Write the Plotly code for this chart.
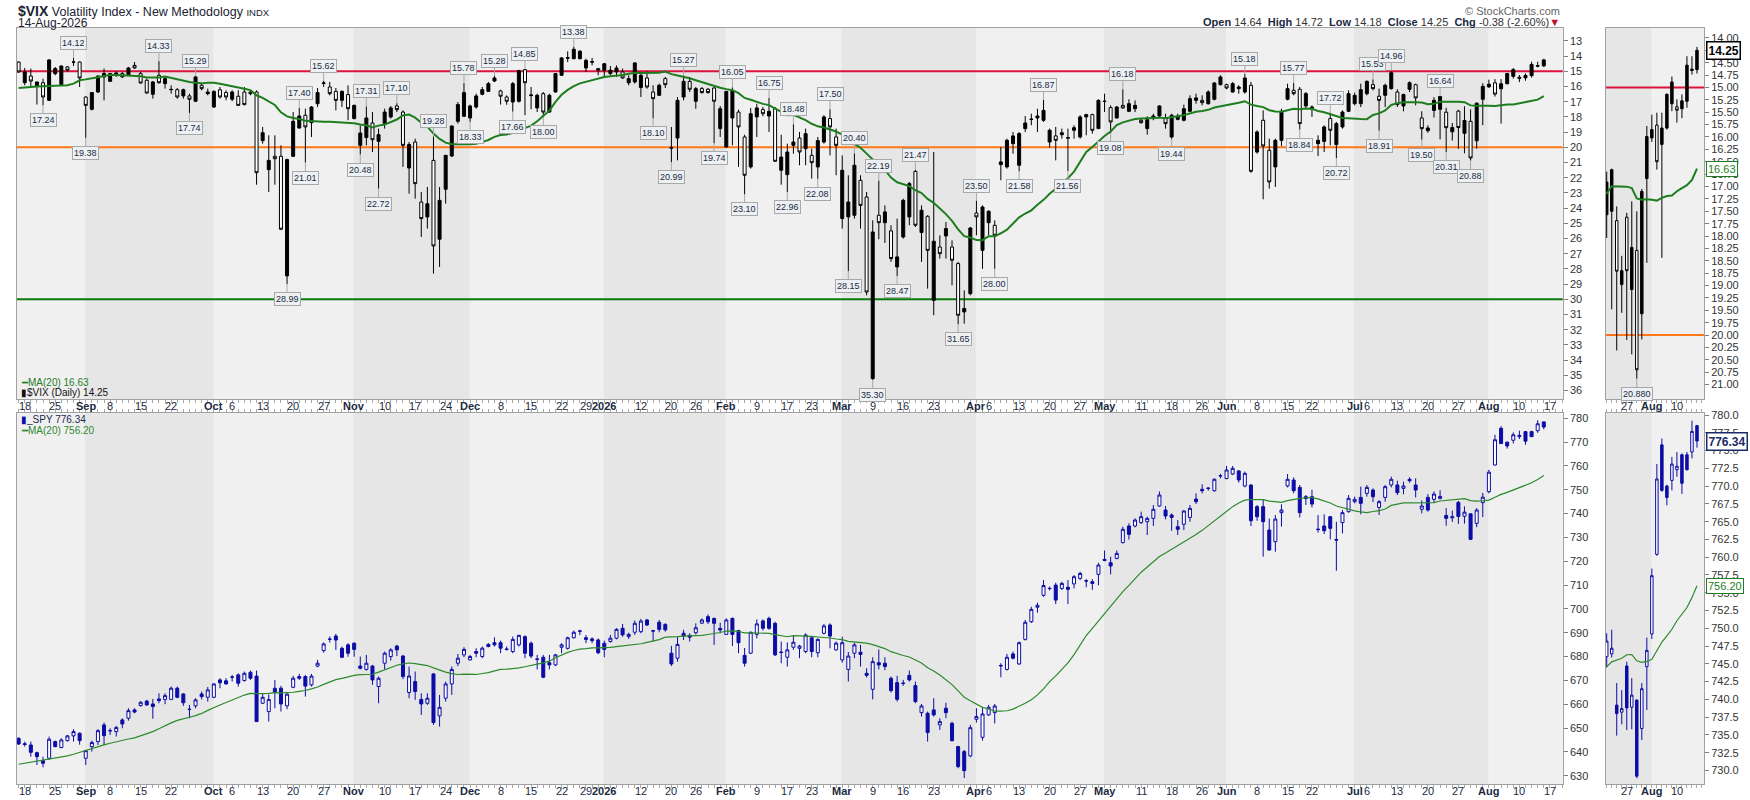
import pandas as pd
import plotly.graph_objects as go

FONT = "Liberation Sans, Arial, sans-serif"

# ---- trading calendar (Aug 15 2025 .. Aug 14 2026) ----
holidays = ["2025-09-01", "2025-11-27", "2025-12-25", "2026-01-01", "2026-01-19",
            "2026-02-16", "2026-04-03", "2026-05-25", "2026-06-19", "2026-07-03"]
cal = pd.bdate_range("2025-08-15", "2026-08-21")
cal = cal[~cal.isin(pd.to_datetime(holidays))]
bar_pos = {d: i for i, d in enumerate(cal)}

tick_dates = ["2025-08-18", "2025-08-25", "2025-09-02", "2025-09-08", "2025-09-15", "2025-09-22",
              "2025-10-01", "2025-10-06", "2025-10-13", "2025-10-20", "2025-10-27", "2025-11-03",
              "2025-11-10", "2025-11-17", "2025-11-24", "2025-12-01", "2025-12-08", "2025-12-15",
              "2025-12-22", "2025-12-29", "2026-01-02", "2026-01-12", "2026-01-20", "2026-01-26",
              "2026-02-02", "2026-02-09", "2026-02-17", "2026-02-23", "2026-03-02", "2026-03-09",
              "2026-03-16", "2026-03-23", "2026-04-01", "2026-04-06", "2026-04-13", "2026-04-20",
              "2026-04-27", "2026-05-01", "2026-05-11", "2026-05-18", "2026-05-26", "2026-06-01",
              "2026-06-08", "2026-06-15", "2026-06-22", "2026-07-01", "2026-07-06", "2026-07-13",
              "2026-07-20", "2026-07-27", "2026-08-03", "2026-08-10", "2026-08-17"]
tick_text = ["18", "25", "<b>Sep</b>", "8", "15", "22",
             "<b>Oct</b>", "6", "13", "20", "27", "<b>Nov</b>",
             "10", "17", "24", "<b>Dec</b>", "8", "15",
             "22", "29", "<b>2026</b>", "12", "20", "26",
             "<b>Feb</b>", "9", "17", "23", "<b>Mar</b>", "9",
             "16", "23", "<b>Apr</b>", "6", "13", "20",
             "27", "<b>May</b>", "11", "18", "26", "<b>Jun</b>",
             "8", "15", "22", "<b>Jul</b>", "6", "13",
             "20", "27", "<b>Aug</b>", "10", "17"]
zoom_tick_dates = ["2026-07-27", "2026-08-03", "2026-08-10"]
zoom_tick_text = ["27", "<b>Aug</b>", "10"]

# ---- $VIX daily OHLC ----
vix_open = [
    14.39, 15.75, 15.31, 15.96, 15.75, 16.91, 15.15, 15.88, 14.71, 14.40,
    14.39, 16.69, 17.50, 16.36, 15.37, 15.66, 15.26, 15.15, 15.26, 14.61,
    15.15, 15.59, 16.51, 15.26, 15.81, 16.21, 16.21, 16.62, 16.62, 16.97,
    15.92, 16.47, 17.35, 16.21, 16.40, 16.84, 16.64, 16.36, 16.36, 16.36,
    19.56, 21.47, 20.59, 20.59, 28.46, 20.59, 18.73, 17.89, 18.38, 17.13,
    15.79, 16.03, 16.32, 16.91, 16.53, 18.11, 19.87, 19.36, 18.40, 19.61,
    18.44, 18.00, 17.28, 17.68, 21.36, 19.65, 23.60, 24.58, 20.86, 26.05,
    22.76, 20.57, 18.29, 17.96, 18.07, 17.35, 16.51, 16.32, 15.64, 16.29,
    16.69, 17.02, 16.97, 14.89, 16.60, 17.41, 16.47, 17.68, 16.36, 15.26,
    14.14, 14.17, 14.17, 14.78, 14.40, 14.82, 14.93, 15.15, 15.04, 15.04,
    15.75, 15.70, 16.07, 15.44, 16.36, 16.58, 15.48, 20.00, 19.39, 16.69,
    15.66, 16.97, 16.14, 16.18, 16.10, 18.77, 19.98, 18.07, 17.68, 19.32,
    21.29, 18.00, 17.52, 17.94, 17.46, 21.51, 21.80, 19.87, 19.39, 20.09,
    20.53, 21.29, 19.65, 18.11, 19.32, 24.69, 24.58, 24.47, 22.17, 23.27,
    35.22, 24.47, 24.96, 25.50, 27.87, 25.90, 24.58, 21.58, 25.61, 24.54,
    30.07, 26.56, 25.83, 26.56, 27.65, 30.83, 29.63, 24.32, 26.78, 24.96,
    25.13, 21.14, 21.29, 19.76, 21.18, 18.77, 18.17, 18.07, 18.22, 19.65,
    19.25, 19.17, 19.40, 18.88, 19.32, 18.00, 17.85, 18.77, 16.99, 17.39,
    18.07, 17.24, 17.63, 17.46, 18.22, 18.77, 18.11, 17.94, 18.07, 19.32,
    18.16, 18.22, 17.63, 16.91, 16.91, 17.13, 16.84, 15.88, 15.88, 16.36,
    16.14, 16.36, 15.92, 20.31, 18.22, 20.20, 21.29, 19.54, 16.84, 16.25,
    16.18, 17.28, 17.46, 19.76, 19.61, 18.11, 19.82, 18.66, 17.63, 17.13,
    17.13, 16.47, 15.88, 16.64, 16.58, 16.14, 16.36, 17.28, 16.18, 15.88,
    18.07, 18.91, 17.57, 17.50, 17.69, 18.98, 17.62, 19.08, 18.29, 19.57,
    16.84, 16.02, 15.76, 16.15, 15.82, 15.33, 15.39, 15.43, 15.28, 14.66,
    14.64]
vix_high = [
    15.10, 15.92, 16.03, 17.19, 17.24, 16.95, 15.26, 15.90, 15.00, 14.65,
    16.03, 19.38, 17.57, 16.43, 16.91, 15.70, 15.37, 15.44, 15.31, 14.82,
    15.81, 16.47, 16.80, 15.81, 16.14, 16.47, 16.80, 16.80, 17.74, 17.02,
    16.25, 16.58, 17.41, 16.80, 16.91, 16.97, 17.28, 17.24, 16.58, 22.46,
    19.76, 22.94, 22.46, 25.45, 28.99, 20.64, 18.77, 21.01, 19.32, 17.35,
    16.03, 16.58, 17.57, 17.35, 18.22, 18.16, 20.48, 19.87, 20.31, 22.72,
    18.77, 18.11, 17.68, 21.29, 23.05, 23.38, 25.90, 25.35, 28.31, 27.87,
    23.71, 20.64, 18.44, 18.00, 18.33, 17.46, 16.58, 16.36, 15.70, 17.19,
    17.20, 17.66, 17.06, 17.89, 17.50, 17.68, 18.00, 17.72, 16.40, 15.31,
    14.39, 14.21, 14.21, 15.04, 14.61, 15.26, 15.44, 15.26, 15.37, 15.48,
    15.92, 15.81, 16.69, 16.14, 18.10, 16.60, 16.10, 20.99, 20.86, 16.91,
    16.36, 17.46, 16.47, 16.47, 19.74, 19.32, 20.02, 19.87, 21.29, 23.10,
    21.40, 19.32, 17.96, 18.99, 20.96, 22.46, 22.96, 20.42, 21.18, 21.18,
    22.06, 22.08, 19.76, 20.53, 21.84, 25.35, 28.15, 24.69, 25.35, 29.74,
    35.30, 26.05, 26.29, 27.54, 28.47, 26.01, 25.13, 25.24, 27.54, 29.30,
    31.05, 27.32, 27.32, 29.08, 31.65, 31.60, 29.74, 25.79, 28.00, 25.79,
    28.00, 22.17, 21.40, 20.42, 21.58, 18.99, 18.55, 18.99, 18.33, 20.02,
    20.86, 19.43, 21.56, 19.43, 19.43, 19.21, 19.10, 18.80, 17.68, 19.08,
    18.11, 17.46, 17.68, 17.68, 18.44, 19.17, 18.22, 18.00, 18.77, 19.44,
    18.22, 18.29, 17.68, 17.13, 17.24, 17.19, 16.91, 15.92, 16.18, 16.40,
    16.47, 16.47, 21.67, 20.42, 23.42, 22.72, 22.61, 19.91, 16.91, 16.58,
    18.84, 17.46, 18.00, 20.58, 20.31, 19.87, 20.72, 18.77, 17.68, 17.24,
    17.35, 16.58, 16.25, 18.91, 17.35, 16.21, 17.35, 17.63, 16.36, 17.24,
    19.50, 19.04, 18.04, 19.48, 20.31, 19.55, 20.10, 20.39, 20.88, 20.09,
    18.54, 16.10, 16.66, 18.44, 15.85, 15.48, 15.71, 15.62, 15.41, 14.74,
    14.72]
vix_low = [
    14.35, 14.78, 14.82, 15.70, 15.48, 14.20, 14.71, 14.61, 14.65, 14.12,
    14.35, 16.65, 16.36, 15.26, 14.82, 15.11, 15.00, 15.04, 14.71, 14.39,
    15.04, 15.48, 15.64, 14.33, 15.37, 15.92, 16.10, 16.14, 16.47, 15.29,
    15.81, 16.14, 16.25, 16.03, 16.25, 16.25, 16.25, 16.03, 16.25, 16.25,
    18.66, 19.21, 19.21, 19.87, 20.75, 17.68, 17.40, 17.46, 17.28, 16.10,
    15.62, 15.70, 16.10, 16.25, 15.92, 17.19, 18.55, 17.31, 17.68, 18.77,
    17.46, 17.28, 17.10, 17.57, 19.65, 19.43, 22.94, 22.61, 19.28, 22.61,
    20.50, 18.55, 17.02, 15.78, 17.19, 16.47, 16.03, 15.70, 15.28, 16.21,
    16.58, 15.70, 14.90, 14.85, 16.03, 16.47, 16.36, 16.47, 15.11, 14.06,
    13.68, 13.38, 13.61, 14.17, 14.12, 14.78, 14.45, 14.65, 14.61, 14.82,
    15.26, 14.39, 15.04, 15.00, 15.92, 15.81, 15.37, 18.66, 16.69, 15.27,
    15.37, 16.03, 16.03, 16.10, 16.03, 17.28, 16.30, 16.05, 17.52, 19.17,
    17.41, 17.13, 17.35, 16.75, 17.35, 19.17, 19.76, 18.48, 18.99, 18.77,
    20.09, 19.32, 17.89, 17.50, 18.77, 20.53, 21.84, 20.40, 21.84, 22.94,
    24.80, 22.19, 23.82, 25.13, 24.69, 23.38, 22.28, 21.47, 23.82, 24.47,
    20.31, 25.79, 24.91, 26.12, 27.54, 29.41, 25.24, 23.50, 23.82, 24.14,
    24.80, 19.98, 19.43, 18.99, 18.99, 17.94, 17.79, 17.46, 16.87, 18.77,
    18.66, 18.77, 18.77, 18.55, 17.89, 17.79, 17.79, 16.84, 16.47, 17.24,
    17.28, 16.18, 16.84, 16.91, 18.07, 17.96, 17.79, 17.24, 17.79, 17.79,
    17.79, 17.19, 16.58, 16.47, 16.58, 16.25, 15.70, 15.26, 15.81, 15.70,
    15.92, 15.18, 15.70, 18.88, 17.57, 19.43, 19.43, 17.46, 15.81, 15.77,
    16.03, 16.36, 17.24, 19.21, 18.55, 17.72, 18.33, 17.57, 16.25, 16.40,
    15.81, 15.60, 15.53, 16.14, 15.81, 14.96, 16.18, 16.47, 15.66, 15.81,
    17.63, 18.55, 16.70, 16.64, 17.40, 18.40, 17.53, 17.30, 17.50, 17.05,
    15.78, 15.55, 15.51, 15.51, 15.12, 14.78, 15.24, 15.14, 14.37, 14.37,
    14.18]
vix_close = [
    15.04, 15.04, 15.64, 15.70, 16.69, 14.25, 14.82, 14.65, 14.93, 14.39,
    15.44, 17.24, 16.40, 15.31, 15.15, 15.15, 15.11, 15.37, 14.78, 14.78,
    15.77, 16.43, 15.70, 15.75, 15.48, 16.19, 16.69, 16.21, 16.84, 15.37,
    16.14, 16.36, 16.32, 16.69, 16.69, 16.36, 17.24, 17.19, 16.47, 21.67,
    19.04, 20.86, 20.75, 25.39, 20.81, 18.29, 17.94, 18.66, 17.35, 16.40,
    15.77, 16.47, 16.91, 16.32, 17.46, 17.24, 19.06, 18.07, 19.50, 19.17,
    17.68, 17.41, 17.52, 19.87, 19.82, 22.39, 24.69, 23.71, 26.49, 23.49,
    20.53, 18.60, 17.19, 16.40, 17.28, 16.62, 16.21, 15.81, 15.44, 16.64,
    16.97, 15.81, 14.95, 15.75, 16.56, 16.58, 17.68, 16.58, 15.15, 14.12,
    14.10, 13.55, 13.68, 14.28, 14.37, 14.93, 14.50, 14.93, 14.78, 15.44,
    15.48, 14.45, 15.26, 16.03, 16.80, 15.92, 15.88, 20.05, 16.91, 15.66,
    16.18, 16.14, 16.40, 16.40, 16.97, 17.46, 16.32, 16.25, 18.66, 21.84,
    17.79, 17.41, 17.79, 17.63, 20.92, 20.64, 20.31, 19.65, 20.31, 19.10,
    21.01, 19.56, 18.00, 18.66, 19.87, 21.51, 23.60, 21.18, 23.82, 29.52,
    25.57, 24.96, 24.25, 27.32, 27.21, 23.49, 22.39, 25.13, 24.14, 26.78,
    26.18, 27.00, 25.35, 27.43, 31.05, 30.61, 25.31, 24.58, 23.93, 24.21,
    25.79, 20.96, 19.54, 19.25, 19.10, 18.40, 18.15, 17.94, 17.57, 18.88,
    19.54, 19.04, 19.36, 18.71, 18.00, 17.85, 18.88, 16.91, 16.97, 18.33,
    17.35, 17.41, 17.13, 17.24, 18.38, 18.18, 17.94, 17.28, 18.44, 17.89,
    17.94, 17.46, 16.80, 16.75, 17.06, 16.36, 15.77, 15.37, 16.10, 15.81,
    16.03, 15.44, 21.58, 18.99, 19.91, 22.28, 19.54, 17.63, 16.14, 16.47,
    18.44, 16.47, 17.35, 19.54, 18.66, 18.88, 18.44, 17.68, 16.47, 16.58,
    16.21, 15.66, 16.14, 16.91, 15.92, 15.09, 17.19, 16.53, 15.75, 16.75,
    18.77, 18.73, 16.91, 16.66, 18.71, 18.70, 18.70, 18.23, 20.70, 17.10,
    15.99, 15.85, 16.50, 15.82, 15.14, 14.89, 15.46, 15.27, 14.55, 14.63,
    14.25]
# MA(20) values for the first bars (history before the window)
vix_ma_head = [16.10, 16.05, 16.03, 16.00, 15.99, 15.96, 15.96, 15.94, 15.92, 15.81,
               15.59, 15.53, 15.48, 15.39, 15.31, 15.24, 15.24, 15.26, 15.29]

# ---- SPY daily OHLC ----
spy_open = [
    645.68, 643.4, 642.88, 639.66, 636.3, 637.3, 644.3, 641.8, 644.7, 646.7,
    647.8, 637.3, 642.2, 644.3, 651.3, 648.8, 648.5, 653.4, 654.1, 657.6,
    659.4, 661.3, 660.1, 662.2, 662.0, 662.0, 666.7, 664.3, 657.9, 659.3,
    664.3, 662.9, 662.9, 670.2, 669.8, 671.3, 672.3, 669.9, 673.4, 671.8,
    660.4, 656.9, 666.7, 666.7, 659.3, 667.1, 671.6, 671.6, 668.1, 676.0,
    682.5, 687.2, 688.6, 683.45, 684.9, 685.6, 676.0, 674.6, 676.0, 667.4,
    677.2, 680.0, 684.4, 680.2, 664.9, 669.5, 662.0, 660.4, 672.7, 655.1,
    662.5, 668.5, 677.2, 680.7, 678.6, 682.1, 680.0, 685.1, 685.8, 685.8,
    683.0, 682.1, 684.9, 688.35, 685.6, 679.0, 679.7, 677.4, 676.5, 683.9,
    683.45, 687.9, 690.6, 687.9, 687.4, 686.95, 685.56, 686.3, 687.7, 691.85,
    688.35, 690.2, 690.45, 695.35, 690.8, 694.4, 693.5, 681.4, 679.3, 689.75,
    688.9, 690.0, 694.0, 696.75, 696.0, 691.85, 689.3, 696.0, 690.9, 680.5,
    681.4, 689.3, 694.95, 696.0, 693.95, 681.9, 679.7, 683.9, 683.45, 682.1,
    687.9, 681.6, 689.75, 693.25, 682.8, 678.6, 674.6, 681.4, 681.8, 672.96,
    666.25, 677.4, 677.2, 670.9, 669.05, 668.9, 672.1, 667.8, 656.45, 656.2,
    657.6, 651.3, 658.3, 651.98, 642.2, 640.1, 638.3, 653.65, 646.1, 655.5,
    656.45, 676.3, 674.6, 681.1, 676.9, 687.2, 694.6, 700.7, 705.7, 708.5,
    710.0, 708.6, 709.1, 710.5, 712.8, 711.8, 711.4, 714.5, 720.8, 719.4,
    721.2, 727.8, 734.8, 734.8, 736.2, 736.6, 738.0, 743.2, 741.5, 739.4,
    734.5, 735.5, 738.4, 746.1, 750.2, 750.7, 749.6, 755.8, 754.7, 756.6,
    757.9, 751.6, 752.0, 742.9, 742.9, 733.1, 728.2, 740.4, 751.6, 754.1,
    751.0, 747.1, 747.1, 733.5, 734.8, 738.7, 729.1, 736.2, 740.8, 745.0,
    746.8, 748.5, 749.9, 742.6, 746.8, 752.0, 752.0, 750.6, 754.4, 752.0,
    741.8, 746.8, 746.0, 746.4, 739.2, 738.2, 744.7, 738.9, 739.9, 735.9,
    744.6, 749.2, 760.4, 775.8, 770.0, 770.8, 772.3, 774.4, 774.4, 774.8,
    778.5]
spy_high = [
    646.1, 644.3, 644.3, 640.1, 637.98, 646.4, 644.7, 645.7, 647.1, 649.5,
    648.1, 640.8, 644.7, 649.5, 652.3, 649.9, 650.9, 654.1, 658.3, 658.3,
    661.3, 661.8, 662.2, 664.6, 664.6, 667.4, 667.4, 664.6, 659.7, 662.5,
    665.3, 667.2, 668.8, 670.9, 670.9, 672.3, 673.0, 673.7, 674.1, 674.1,
    664.6, 664.1, 670.2, 667.7, 664.6, 671.9, 672.7, 672.3, 672.7, 678.6,
    685.9, 688.4, 689.5, 684.2, 685.6, 685.9, 680.0, 680.7, 676.5, 671.6,
    682.1, 683.5, 684.9, 680.7, 675.8, 673.7, 664.6, 664.6, 673.0, 663.9,
    669.5, 675.8, 681.1, 683.9, 680.7, 683.5, 684.2, 685.6, 688.1, 686.7,
    684.2, 688.4, 689.1, 688.9, 686.3, 680.7, 680.7, 680.7, 681.1, 685.6,
    688.35, 690.9, 691.3, 689.05, 688.1, 687.6, 686.7, 689.05, 691.9, 693.7,
    690.0, 695.1, 695.8, 695.8, 691.2, 695.35, 693.95, 684.5, 688.35, 691.2,
    689.75, 693.95, 696.0, 697.7, 696.4, 694.2, 696.0, 696.4, 691.2, 683.6,
    690.45, 695.6, 695.6, 696.75, 694.6, 686.3, 685.9, 688.6, 684.9, 689.75,
    688.1, 687.6, 693.7, 693.95, 686.3, 688.35, 681.9, 685.9, 684.9, 675.1,
    679.7, 683.0, 679.7, 671.6, 671.9, 670.2, 674.1, 669.5, 660.1, 656.9,
    662.5, 654.1, 660.6, 652.7, 642.5, 640.8, 651.3, 658.3, 658.3, 659.7,
    660.1, 677.2, 681.1, 682.1, 686.3, 695.35, 700.9, 702.6, 712.1, 709.4,
    711.0, 711.4, 712.1, 714.2, 715.6, 712.5, 712.5, 719.4, 724.5, 721.9,
    724.5, 734.5, 735.9, 738.0, 740.8, 738.7, 743.6, 749.3, 743.2, 740.1,
    737.3, 741.5, 743.6, 748.5, 752.3, 751.1, 754.8, 756.7, 760.0, 760.0,
    758.3, 757.6, 752.3, 743.6, 746.1, 737.9, 739.4, 743.9, 756.6, 755.2,
    752.0, 747.8, 750.0, 739.4, 739.7, 739.0, 736.6, 741.5, 747.8, 747.1,
    751.3, 752.0, 750.6, 745.7, 752.0, 755.5, 753.8, 753.4, 755.2, 754.8,
    745.5, 748.2, 749.3, 749.8, 742.3, 741.3, 745.3, 743.0, 740.0, 742.3,
    748.7, 758.4, 773.1, 776.7, 770.2, 774.1, 774.8, 774.6, 774.8, 779.2,
    778.6]
spy_low = [
    642.9, 642.2, 637.98, 634.5, 633.5, 636.6, 641.9, 641.5, 644.3, 644.3,
    643.0, 634.5, 640.1, 642.9, 642.9, 647.1, 646.4, 649.9, 653.1, 656.2,
    658.97, 659.3, 653.9, 660.4, 660.0, 661.8, 662.5, 659.3, 654.1, 658.3,
    662.0, 661.1, 662.5, 666.7, 668.3, 669.5, 667.4, 669.5, 670.2, 652.5,
    660.1, 652.7, 658.3, 656.9, 657.9, 666.7, 670.2, 663.2, 667.4, 675.5,
    681.6, 685.9, 682.8, 679.3, 679.9, 679.9, 674.6, 674.1, 668.1, 660.4,
    674.6, 678.3, 680.2, 670.5, 662.5, 661.8, 655.5, 659.7, 651.3, 650.6,
    661.1, 663.9, 676.0, 679.7, 678.3, 679.7, 679.3, 683.9, 684.2, 681.4,
    682.5, 681.4, 684.2, 679.3, 679.3, 674.6, 670.9, 674.6, 676.0, 681.4,
    682.9, 687.6, 689.0, 685.6, 685.6, 681.0, 679.7, 685.9, 687.2, 688.35,
    687.4, 689.05, 689.75, 692.8, 686.3, 690.2, 690.45, 676.0, 677.85, 686.95,
    686.3, 689.3, 693.7, 693.7, 684.9, 689.75, 689.05, 684.4, 681.4, 675.8,
    681.1, 687.6, 690.9, 691.2, 680.2, 677.2, 675.8, 682.8, 679.3, 681.4,
    679.7, 679.7, 689.3, 683.45, 682.5, 677.4, 669.5, 679.3, 675.8, 671.2,
    662.0, 674.6, 674.3, 664.9, 661.1, 667.7, 669.5, 660.4, 654.8, 644.3,
    654.8, 649.2, 654.1, 644.3, 633.1, 629.0, 637.7, 652.3, 644.7, 655.1,
    651.9, 671.3, 674.1, 678.8, 676.5, 686.7, 694.1, 698.4, 705.1, 707.7,
    702.0, 707.9, 702.0, 708.6, 712.1, 709.1, 708.0, 709.9, 720.0, 714.5,
    720.8, 727.5, 729.1, 734.2, 735.7, 731.0, 734.8, 742.9, 737.6, 732.8,
    731.0, 733.1, 736.6, 744.0, 748.5, 749.6, 749.2, 754.8, 754.4, 756.2,
    753.0, 751.0, 734.8, 737.0, 721.9, 724.5, 724.0, 734.5, 751.0, 748.5,
    738.4, 743.6, 742.6, 732.0, 731.4, 729.2, 716.0, 731.7, 740.4, 744.3,
    739.7, 747.1, 744.9, 739.4, 745.0, 751.0, 747.8, 748.1, 753.0, 746.8,
    740.1, 740.8, 744.5, 745.9, 734.9, 736.5, 735.7, 735.8, 728.9, 734.3,
    738.5, 748.5, 760.2, 769.2, 767.3, 769.4, 771.3, 768.9, 772.2, 773.9,
    775.4]
spy_close = [
    643.3, 643.1, 639.8, 637.98, 635.2, 645.3, 642.2, 645.0, 646.7, 648.5,
    644.7, 640.5, 643.9, 648.9, 646.8, 648.9, 650.2, 651.7, 657.3, 656.7,
    660.8, 659.7, 659.0, 661.5, 663.6, 666.7, 662.9, 660.6, 657.8, 661.8,
    663.2, 666.0, 668.5, 669.0, 668.5, 671.4, 668.8, 672.96, 670.9, 652.7,
    662.9, 662.0, 664.9, 660.1, 664.2, 670.9, 670.9, 667.6, 671.8, 677.2,
    685.3, 687.3, 686.95, 679.7, 681.4, 683.0, 675.1, 677.2, 670.2, 670.9,
    681.4, 682.8, 682.8, 671.6, 671.8, 665.3, 660.1, 662.5, 652.3, 658.7,
    668.5, 674.6, 679.3, 683.0, 680.0, 681.4, 683.5, 684.2, 684.9, 683.5,
    683.1, 687.2, 688.9, 681.4, 680.2, 678.8, 671.3, 676.5, 680.7, 684.9,
    687.9, 690.2, 690.7, 687.2, 686.7, 681.6, 683.0, 687.7, 691.4, 689.1,
    689.3, 693.95, 694.9, 693.25, 690.7, 691.4, 691.2, 676.9, 685.1, 688.6,
    688.1, 692.1, 695.35, 694.6, 693.95, 691.15, 695.35, 689.3, 685.8, 677.2,
    690.2, 693.7, 691.85, 691.85, 680.7, 681.7, 682.8, 686.0, 684.4, 689.05,
    682.1, 687.2, 692.85, 688.6, 685.6, 685.8, 680.2, 684.9, 680.9, 672.1,
    677.85, 676.5, 675.8, 665.7, 662.05, 668.7, 670.2, 661.1, 659.25, 648.1,
    655.5, 652.7, 656.45, 644.7, 633.8, 632.1, 650.15, 654.8, 655.9, 658.7,
    659.25, 676.1, 679.7, 679.3, 685.8, 694.4, 699.8, 701.5, 709.8, 708.6,
    703.7, 710.7, 708.2, 713.5, 714.9, 711.7, 710.7, 718.4, 720.3, 718.0,
    723.3, 733.4, 731.3, 737.3, 738.7, 738.0, 741.8, 747.8, 739.0, 738.4,
    733.4, 741.1, 742.2, 745.0, 749.6, 750.6, 754.4, 755.9, 758.3, 759.0,
    754.1, 756.9, 737.0, 738.7, 736.6, 724.7, 737.7, 741.5, 754.4, 749.6,
    740.4, 746.3, 744.0, 733.3, 732.8, 733.8, 728.9, 740.4, 746.4, 746.0,
    744.3, 751.0, 747.1, 745.0, 751.3, 754.4, 748.8, 751.6, 753.8, 749.9,
    743.2, 741.5, 748.2, 747.2, 738.0, 738.7, 738.8, 740.6, 729.2, 741.5,
    746.9, 757.4, 771.0, 769.4, 768.4, 773.1, 772.8, 770.4, 772.3, 777.7,
    776.34]
spy_ma_head = [634.8, 635.2, 635.9, 636.3, 636.6, 636.9, 637.2, 637.6, 638.3, 639.0,
               639.8, 640.8, 641.5, 642.2, 642.9, 643.6, 644.3, 645.0, 645.4]

# bars whose low / high is tagged with a value box on the VIX panel
vix_low_tags = [9, 23, 29, 46, 50, 57, 62, 68, 73, 78, 83, 91, 109, 117, 123, 127, 133, 137,
                141, 147, 157, 168, 181, 201, 209, 215, 222, 225, 233]
vix_high_tags = [4, 11, 28, 44, 47, 56, 59, 74, 81, 86, 104, 107, 114, 119, 126, 131, 136, 140,
                 144, 154, 160, 164, 172, 179, 189, 210, 216, 223, 230, 234, 238]
zoom_high_tags = [238]

vix_levels = [15, 20, 30]
level_colors = ["#dc143c", "#ff7716", "#0b7a0b"]

vix_ticks = list(range(13, 37))
spy_ticks = list(range(630, 781, 10))
zoom_vix_ticks = [14 + 0.25 * k for k in range(29)]
zoom_spy_ticks = [730 + 2.5 * k for k in range(21)]

# ---- derived ----
n = len(vix_close)
dates = cal[:n]
xs = list(range(n))
tick_pos = [bar_pos[pd.Timestamp(d)] for d in tick_dates]
zoom_tick_pos = [bar_pos[pd.Timestamp(d)] for d in zoom_tick_dates]

vix_ma = pd.Series(vix_close).rolling(20).mean()
vix_ma[:len(vix_ma_head)] = vix_ma_head
spy_ma = pd.Series(spy_close).rolling(20).mean()
spy_ma[:len(spy_ma_head)] = spy_ma_head

main_range = [-0.3, 253.1]
zoom_range = [231.8, 251.4]

fig = go.Figure()

def add_candles(o, h, l, c, xa, ya, col):
    fig.add_trace(go.Candlestick(
        x=xs, open=o, high=h, low=l, close=c, xaxis=xa, yaxis=ya,
        increasing=dict(fillcolor="white", line=dict(color=col, width=1)),
        decreasing=dict(fillcolor=col, line=dict(color=col, width=1)),
        whiskerwidth=0, hoverinfo="skip", showlegend=False))

def add_ma(ma, xa, ya, col, w):
    fig.add_trace(go.Scatter(x=xs, y=ma, xaxis=xa, yaxis=ya, mode="lines",
                             line=dict(color=col, width=w), hoverinfo="skip", showlegend=False))

add_candles(vix_open, vix_high, vix_low, vix_close, "x", "y", "#000000")
add_ma(vix_ma, "x", "y", "#1e7d1e", 2)
add_candles(spy_open, spy_high, spy_low, spy_close, "x2", "y2", "#0c0ca6")
add_ma(spy_ma, "x2", "y2", "#2c8a2c", 1.2)
add_candles(vix_open, vix_high, vix_low, vix_close, "x3", "y3", "#000000")
add_ma(vix_ma, "x3", "y3", "#1e7d1e", 2)
add_candles(spy_open, spy_high, spy_low, spy_close, "x4", "y4", "#0c0ca6")
add_ma(spy_ma, "x4", "y4", "#2c8a2c", 1.2)

# month shading (odd months darker)
shapes = []
starts = [0] + [i for i in range(1, n) if dates[i].month != dates[i - 1].month]
ends = starts[1:] + [n + 10]
panels = [("x", "y", main_range), ("x2", "y2", main_range),
          ("x3", "y3", zoom_range), ("x4", "y4", zoom_range)]
for s, e in zip(starts, ends):
    if dates[s].month % 2 == 0:
        continue
    for xr, yr, rng in panels:
        x0 = max(s - 0.1, rng[0])
        x1 = min(e - 0.1, rng[1])
        if x0 < x1:
            shapes.append(dict(type="rect", xref=xr, yref=yr + " domain", x0=x0, x1=x1,
                               y0=0, y1=1, fillcolor="#e6e6e6", line=dict(width=0), layer="below"))

# horizontal reference levels on VIX panels
for lvl, col in zip(vix_levels, level_colors):
    for xr, yr, lim in [("x", "y", 36.5), ("x3", "y3", 21.2)]:
        if lvl < lim:
            shapes.append(dict(type="line", xref=xr + " domain", yref=yr, x0=0, x1=1,
                               y0=lvl, y1=lvl, line=dict(color=col, width=2), layer="below"))

annotations = []
W, H = 1750.0, 800.0

# date labels: one row between the panels, one under the price panel
for xr, pos, labels in [("x", tick_pos, tick_text), ("x3", zoom_tick_pos, zoom_tick_text)]:
    for row_y in (406, 790.5):
        for p, t in zip(pos, labels):
            annotations.append(dict(xref=xr, yref="paper", x=p, y=1 - row_y / H, text=t,
                                    showarrow=False, xanchor="center", yanchor="middle",
                                    font=dict(size=11, color="#1b2a41", family=FONT)))

# value tags
def tag(xr, yr, i, val, above, fmt):
    annotations.append(dict(
        xref=xr, yref=yr, x=i, y=val, text=fmt.format(val), showarrow=True,
        arrowhead=0, arrowwidth=1, arrowcolor="#a8a8a8", ax=0, ay=-15 if above else 15,
        font=dict(size=9, color="#1b2a41", family=FONT), bgcolor="#eef1f4",
        bordercolor="#a8a8a8", borderwidth=1, borderpad=1))

for i in vix_low_tags:
    tag("x", "y", i, vix_low[i], True, "{:.2f}")
for i in vix_high_tags:
    tag("x", "y", i, vix_high[i], False, "{:.2f}")
for i in zoom_high_tags:
    tag("x3", "y3", i, vix_high[i], False, "{:.3f}")

def text(x, y, s, size=11, color="#1b2a41", xanchor="left"):
    annotations.append(dict(xref="paper", yref="paper", x=x, y=y, text=s, showarrow=False,
                            xanchor=xanchor, yanchor="middle",
                            font=dict(size=size, color=color, family=FONT)))

text(16 / W, 1 - 11 / H,
     "<b><span style='font-size:14px'>$VIX</span></b> Volatility Index - New Methodology "
     "<span style='font-size:9.5px'>INDX</span>", size=12.5, color="#1b2230")
text(16 / W, 1 - 23 / H, "14-Aug-2026", size=12, color="#1b2230")
text(1562 / W, 1 - 11 / H, "\u00a9 StockCharts.com", size=11, color="#666666", xanchor="right")
text(1562 / W, 1 - 22.5 / H,
     "<b>Open</b> <span style='color:#333'>14.64</span>  <b>High</b> <span style='color:#333'>14.72</span>  "
     "<b>Low</b> <span style='color:#333'>14.18</span>  <b>Close</b> <span style='color:#333'>14.25</span>  "
     "<b>Chg</b> <span style='color:#333'>-0.38 (-2.60%)</span><span style='color:#c0102b'>\u25bc</span>",
     size=11, xanchor="right")

# in-panel legends
text(19 / W, 1 - 382.5 / H, "\u2501MA(20) 16.63", size=10, color="#1e7d1e")
text(19 / W, 1 - 392.7 / H, "\u25ae$VIX (Daily) 14.25", size=10, color="#111111")
text(19 / W, 1 - 419.3 / H, "<span style='color:#0c0ca6'>\u25ae</span>_SPY 776.34", size=10, color="#1b2a50")
text(19 / W, 1 - 430 / H, "\u2501MA(20) 756.20", size=10, color="#2c8a2c")

# last-value boxes on the zoom panel axes
def last_box(yr, val, s, col, bold):
    annotations.append(dict(xref="paper", yref=yr, x=1706 / W, y=val,
                            text="<b>%s</b>" % s if bold else s, showarrow=False,
                            xanchor="left", yanchor="middle", bgcolor="white",
                            bordercolor=col, borderwidth=1.5 if bold else 1, borderpad=1,
                            font=dict(size=12 if bold else 11, color=col, family=FONT)))

last_box("y3", vix_close[-1], "14.25", "#000000", True)
last_box("y3", vix_ma.iloc[-1], "16.63", "#1e7d1e", False)
last_box("y4", spy_close[-1], "776.34", "#1b2a6b", True)
last_box("y4", spy_ma.iloc[-1], "756.20", "#1e7d1e", False)

main_dom = [16.8 / W, 1562.7 / W]
zoom_dom = [1605.7 / W, 1704 / W]
top_dom = [1 - 399 / H, 1 - 28 / H]
bot_dom = [1 - 784 / H, 1 - 413.3 / H]

base = dict(showgrid=False, zeroline=False, showline=True, linecolor="#a0a0a0", linewidth=1,
            automargin=False, fixedrange=True)
# x axes: a small tick at every bar, labels drawn as annotations
xbase = dict(base, showticklabels=False, ticks="outside", ticklen=3, tickcolor="#a8a8a8",
             tickmode="linear", tick0=0, dtick=1, rangeslider=dict(visible=False))
ybase = dict(base, mirror=True, side="right", ticks="outside", ticklen=4, tickcolor="#808080",
             tickfont=dict(size=11, color="#333333", family=FONT))

fig.update_layout(
    width=1750, height=800,
    margin=dict(l=0, r=0, t=0, b=0),
    paper_bgcolor="white", plot_bgcolor="#f0f0f0",
    showlegend=False, boxgap=0.3,
    font=dict(family=FONT),
    xaxis=dict(xbase, domain=main_dom, anchor="y", range=main_range, mirror=True),
    yaxis=dict(ybase, domain=top_dom, anchor="x", range=[36.56, 12.15], tickvals=vix_ticks),
    xaxis2=dict(xbase, domain=main_dom, anchor="y2", range=main_range, mirror="ticks"),
    yaxis2=dict(ybase, domain=bot_dom, anchor="x2", range=[626.5, 782.1], tickvals=spy_ticks),
    xaxis3=dict(xbase, domain=zoom_dom, anchor="y3", range=zoom_range, mirror=True),
    yaxis3=dict(ybase, domain=top_dom, anchor="x3", range=[21.29, 13.80],
                tickvals=zoom_vix_ticks, tickformat=".2f"),
    xaxis4=dict(xbase, domain=zoom_dom, anchor="y4", range=zoom_range, mirror="ticks"),
    yaxis4=dict(ybase, domain=bot_dom, anchor="x4", range=[728.1, 780.24],
                tickvals=zoom_spy_ticks, tickformat=".1f"),
    shapes=shapes,
    annotations=annotations,
)

fig.write_html("out.html", config={"displayModeBar": False},
               post_script="document.body.style.margin='0';document.body.style.overflow='hidden';")
